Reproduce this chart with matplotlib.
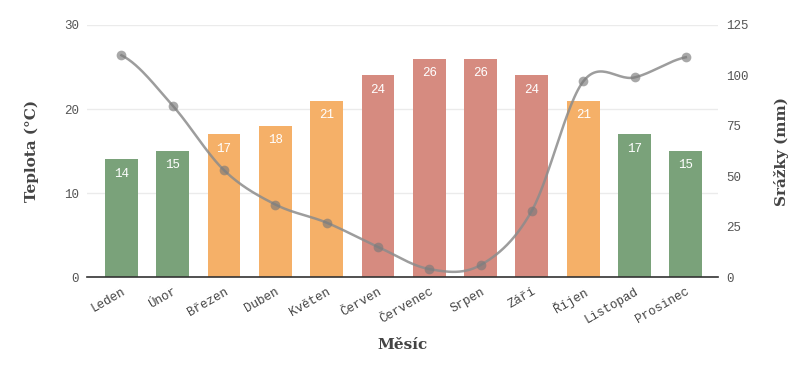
import numpy as np
import matplotlib
matplotlib.use('Agg')
import matplotlib.pyplot as plt

months = ['Leden', 'Únor', 'Březen', 'Duben', 'Květen', 'Červen',
          'Červenec', 'Srpen', 'Září', 'Říjen', 'Listopad', 'Prosinec']
teplota = [14, 15, 17, 18, 21, 24, 26, 26, 24, 21, 17, 15]
srazky = [110, 85, 53, 36, 27, 15, 4, 6, 33, 97, 99, 109]
seasons = ['zima', 'zima', 'jaro', 'jaro', 'jaro', 'leto',
           'leto', 'leto', 'leto', 'jaro', 'zima', 'zima']
season_colors = {'zima': '#7aa27a', 'jaro': '#f5b068', 'leto': '#d68b80'}

mono = 'Liberation Mono'
serif = 'DejaVu Serif'

fig = plt.figure(figsize=(8.06, 3.73), dpi=100)
ax = fig.add_axes([0.108, 0.257, 0.783, 0.676])
x = np.arange(len(months))

bars = ax.bar(x, teplota, width=0.64, color=[season_colors[s] for s in seasons], zorder=2)
for xi, v in zip(x, teplota):
    ax.text(xi, v - 1.0, str(v), ha='center', va='top', color='white',
            fontsize=9, family=mono, zorder=3)

ax.set_xlim(-0.67, 11.63)
ax.set_ylim(0, 30)
ax.set_yticks([0, 10, 20, 30])
ax.grid(axis='y', color='#ebebeb', linewidth=1, zorder=0)
ax.set_axisbelow(True)
for s in ['top', 'right', 'left']:
    ax.spines[s].set_visible(False)
ax.spines['bottom'].set_color('#333333')
ax.spines['bottom'].set_linewidth(1.2)
ax.tick_params(length=0, labelsize=9, labelcolor='#555555', pad=6)
ax.set_xticks(x)
ax.set_xticklabels(months, rotation=30, ha='right', rotation_mode='anchor',
                   family=mono, fontsize=9, color='#444444')
for lab in ax.get_yticklabels():
    lab.set_family(mono)
ax.set_ylabel('Teplota (°C)', family=serif, fontweight='bold', fontsize=11,
              color='#444444', labelpad=18)
ax.set_xlabel('Měsíc', family=serif, fontweight='bold', fontsize=11,
              color='#444444', labelpad=9)

ax2 = ax.twinx()
ax2.set_ylim(0, 125)
ax2.set_yticks([0, 25, 50, 75, 100, 125])
for s in ['top', 'right', 'left', 'bottom']:
    ax2.spines[s].set_visible(False)
ax2.tick_params(length=0, labelsize=9, labelcolor='#555555', pad=6)
for lab in ax2.get_yticklabels():
    lab.set_family(mono)
ax2.set_ylabel('Srážky (mm)', family=serif, fontweight='bold', fontsize=11,
               color='#444444', labelpad=18)

# smooth curve through the points (Catmull-Rom)
px = x.astype(float)
py = np.array(srazky, dtype=float)
ext_x = np.concatenate([[px[0] - 1], px, [px[-1] + 1]])
ext_y = np.concatenate([[py[0]], py, [py[-1]]])
cx, cy = [], []
for i in range(1, len(ext_x) - 2):
    p0, p1, p2, p3 = ext_y[i - 1], ext_y[i], ext_y[i + 1], ext_y[i + 2]
    t = np.linspace(0, 1, 30)
    yy = 0.5 * ((2 * p1) + (-p0 + p2) * t + (2 * p0 - 5 * p1 + 4 * p2 - p3) * t ** 2
                + (-p0 + 3 * p1 - 3 * p2 + p3) * t ** 3)
    cx.extend(ext_x[i] + t)
    cy.extend(yy)
ax2.plot(cx, cy, color='#8c8c8c', linewidth=1.8, alpha=0.85, zorder=4)
ax2.plot(px, py, 'o', color='#7a7a7a', markersize=7, alpha=0.65, zorder=5,
         markeredgewidth=0)

fig.savefig('out.png', dpi=100)
